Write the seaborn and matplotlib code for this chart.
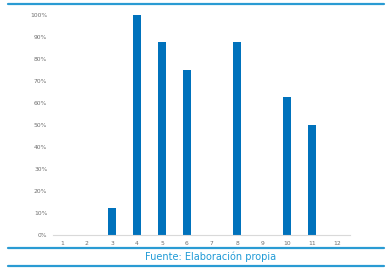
import matplotlib
matplotlib.use("Agg")
import matplotlib.pyplot as plt
import seaborn as sns
import pandas as pd
from matplotlib.lines import Line2D
from matplotlib.ticker import PercentFormatter

categories = ["1", "2", "3", "4", "5", "6", "7", "8", "9", "10", "11", "12"]
values = [0, 0, 0.125, 1.0, 0.875, 0.75, 0, 0.875, 0, 0.625, 0.5, 0]
yticks = [0, 0.1, 0.2, 0.3, 0.4, 0.5, 0.6, 0.7, 0.8, 0.9, 1.0]
source_text = "Fuente: Elaboración propia"

sns.set_theme(style="white")
plt.rcParams['font.family'] = ['DejaVu Sans']

df = pd.DataFrame({"cat": categories, "val": values})

fig = plt.figure(figsize=(3.92, 2.72), dpi=100)
ax = fig.add_axes([0.135, 0.136, 0.758, 0.809])
sns.barplot(data=df, x="cat", y="val", color="#0072bc", width=0.35,
            saturation=1, ax=ax, order=categories, linewidth=0)
ax.set_xlim(-0.36, 11.52)
ax.set_ylim(0, 1.0)
ax.set_yticks(yticks)
ax.yaxis.set_major_formatter(PercentFormatter(1.0, decimals=0))
ax.set_xlabel("")
ax.set_ylabel("")
for s in ["top", "right", "left"]:
    ax.spines[s].set_visible(False)
ax.spines["bottom"].set_color("#d9d9d9")
ax.spines["bottom"].set_linewidth(0.8)
ax.tick_params(axis="both", length=0, labelsize=4.3, labelcolor="#6e6e6e", pad=4)
ax.grid(False)

line_color = "#2a9bd3"
W, H = 392, 272
for y in [3.5, 248, 266]:
    fig.add_artist(Line2D([8 / W, 384 / W], [1 - y / H, 1 - y / H],
                          color=line_color, linewidth=1.6))
fig.text(211 / W, 1 - 257 / H, source_text, ha="center", va="center",
         fontsize=7, color="#1f9ad6")

fig.savefig("out.png", dpi=100)
